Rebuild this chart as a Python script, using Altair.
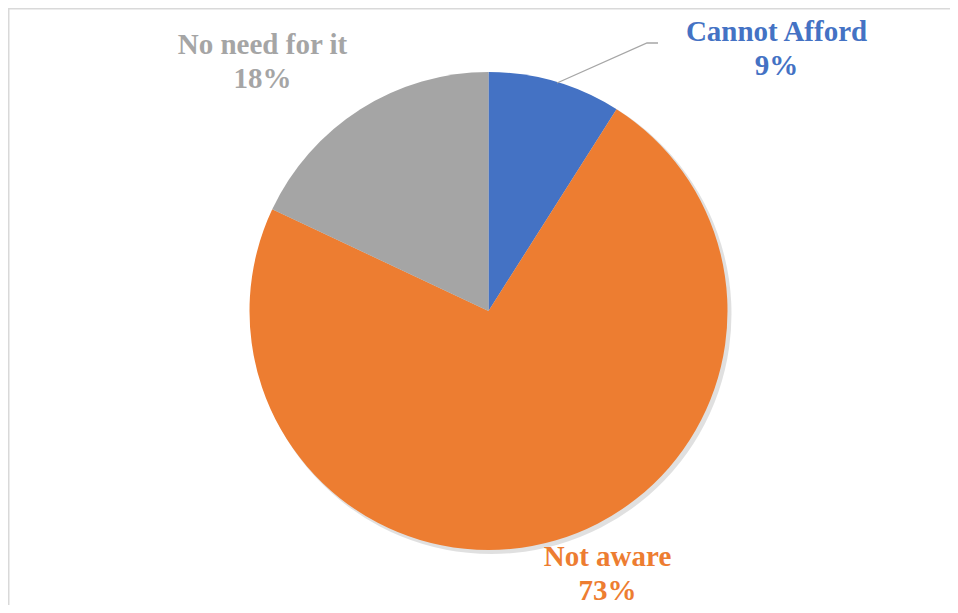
import altair as alt
import pandas as pd

# ---- data ----
categories = ["Cannot Afford", "Not aware", "No need for it"]
shares = [9, 73, 18]
pct_labels = ["9%", "73%", "18%"]
colors = ["#4472C4", "#ED7D31", "#A5A5A5"]

# ---- layout (chart pixel coordinates; page = chart + 8) ----
W, H = 942, 597
CX, CY, R = 480.5, 303, 239
label_x = [768.5, 599.5, 254.5]
label_y = [33, 558, 46]
leader_x = [650, 639, 549]
leader_y = [35, 35, 75]

df = pd.DataFrame({
    "category": categories,
    "share": shares,
    "order": list(range(len(categories))),
})
labels = pd.DataFrame({
    "category": categories,
    "label": [c + "\n" + p for c, p in zip(categories, pct_labels)],
    "lx": label_x,
    "ly": label_y,
})
leader = pd.DataFrame({"x": leader_x, "y": leader_y, "i": list(range(len(leader_x)))})
frame = pd.DataFrame({"x": [0.75, 0.75, W], "y": [H, 0.75, 0.75], "i": [0, 1, 2]})

color = alt.Color("category:N", scale=alt.Scale(domain=categories, range=colors), legend=None)

shadow = alt.Chart(df).mark_arc(outerRadius=R + 1, color="#000000", opacity=0.12).encode(
    theta=alt.Theta("share:Q", stack=True),
    order=alt.Order("order:Q"),
    x=alt.value(CX + 3),
    y=alt.value(CY + 3),
)

pie = alt.Chart(df).mark_arc(outerRadius=R).encode(
    theta=alt.Theta("share:Q", stack=True),
    color=color,
    order=alt.Order("order:Q"),
    x=alt.value(CX),
    y=alt.value(CY),
)

text = alt.Chart(labels).mark_text(
    font="Liberation Serif", fontWeight="bold", fontSize=29,
    lineBreak="\n", lineHeight=34, align="center", baseline="alphabetic",
).encode(
    x=alt.X("lx:Q", scale=None, axis=None),
    y=alt.Y("ly:Q", scale=None, axis=None),
    text="label:N",
    color=color,
)

line = alt.Chart(leader).mark_line(color="#A6A6A6", strokeWidth=1.3).encode(
    x=alt.X("x:Q", scale=None, axis=None),
    y=alt.Y("y:Q", scale=None, axis=None),
    order="i:Q",
)

border = alt.Chart(frame).mark_line(color="#D9D9D9", strokeWidth=1.5).encode(
    x=alt.X("x:Q", scale=None, axis=None),
    y=alt.Y("y:Q", scale=None, axis=None),
    order="i:Q",
)

chart = alt.layer(shadow, pie, line, text, border).properties(
    width=W, height=H, autosize=alt.AutoSizeParams(type="none"), padding=0,
).configure_view(strokeOpacity=0, strokeWidth=0)

chart.save("out.html", embed_options={"renderer": "svg", "actions": False})
